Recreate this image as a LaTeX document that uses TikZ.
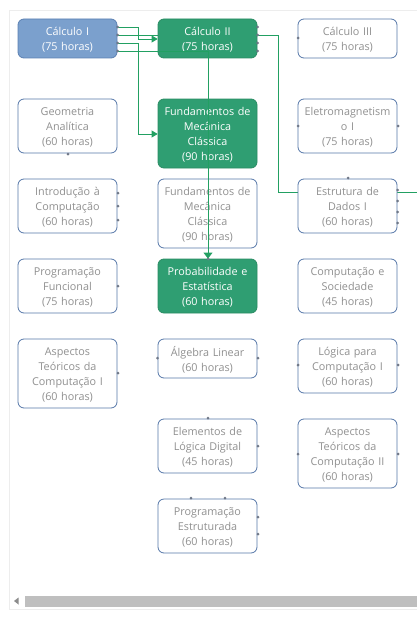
\documentclass[tikz,border=0pt]{standalone}
\usepackage{fontspec}
\setmainfont{Open Sans}
\usetikzlibrary{arrows.meta}
\definecolor{bluefill}{HTML}{7BA0CD}
\definecolor{blueline}{HTML}{5B80B2}
\definecolor{greenfill}{HTML}{2F9E72}
\definecolor{greenline}{HTML}{2A8C63}
\definecolor{boxline}{HTML}{5577A8}
\definecolor{txtgray}{HTML}{909090}
\definecolor{edgegreen}{HTML}{22A062}
\definecolor{dotgray}{HTML}{707888}
\tikzset{
  course/.style={draw=boxline, line width=0.8pt, rounded corners=6pt, fill=white,
    minimum width=99pt, inner sep=0pt},
  bluebox/.style={course, fill=bluefill, draw=blueline},
  greenbox/.style={course, fill=greenfill, draw=greenline},
  coursetext/.style={text width=97pt, align=center, inner sep=0pt,
    font=\fontsize{10.8}{15}\selectfont, text=txtgray, yshift=-1.6pt},
  whitetext/.style={coursetext, text=white},
  link/.style={draw=edgegreen, line width=0.85pt},
  linkarrow/.style={link, -{Triangle[width=7pt,length=6pt]}},
  pin/.style={circle, fill=dotgray, inner sep=0pt, minimum size=3pt}
}
% #1 box style, #2 text style, #3 height, #4 name, #5 centre, #6 text
\newcommand\coursebox[6]{%
  \node[#1, minimum height=#3] (#4) at (#5) {};
  \node[#2] (#4-t) at (#4.center) {#6};}
\begin{document}
\begin{tikzpicture}[x=1pt,y=-1pt]
\useasboundingbox (0,0) rectangle (417,618);
% frame
\draw[draw=black!7, line width=0.6pt] (417,10) -- (9,10) -- (9,609) -- (417,609);
% scrollbar
\fill[black!25] (25,596) rectangle (417,607);
\fill[black!45] (14,601) -- (18.5,597.5) -- (18.5,604.5) -- cycle;

% connector behind boxes
\coordinate (c1) at (117,35);
\coordinate (bend1) at (278,35);
\coordinate (bend2) at (278,192);
\coordinate (offright) at (417,192);
\draw[link] (c1) -- (bend1) -- (bend2) -- (offright);

% column 1
\coursebox{bluebox}{whitetext}{39pt}{calc1}{67.5,38.5}{Cálculo I\\(75 horas)}
\coursebox{course}{coursetext}{54pt}{geo}{67.5,126}{Geometria\\Analítica\\(60 horas)}
\coursebox{course}{coursetext}{54pt}{intro}{67.5,206}{Introdução à\\Computação\\(60 horas)}
\coursebox{course}{coursetext}{54pt}{pfunc}{67.5,286}{Programação\\Funcional\\(75 horas)}
\coursebox{course}{coursetext}{69pt}{atc1}{67.5,373.5}{Aspectos\\Teóricos da\\Computação I\\(60 horas)}

% column 2
\coursebox{greenbox}{whitetext}{39pt}{calc2}{207.5,38.5}{Cálculo II\\(75 horas)}
\coursebox{greenbox}{whitetext}{69pt}{fmc1}{207.5,133.5}{Fundamentos de\\Mecânica\\Clássica\\(90 horas)}
\coursebox{course}{coursetext}{69pt}{fmc2}{207.5,213.5}{Fundamentos de\\Mecânica\\Clássica\\(90 horas)}
\coursebox{greenbox}{whitetext}{54pt}{prob}{207.5,286}{Probabilidade e\\Estatística\\(60 horas)}
\coursebox{course}{coursetext}{39pt}{alg}{207.5,358.5}{Álgebra Linear\\(60 horas)}
\coursebox{course}{coursetext}{54pt}{eld}{207.5,446}{Elementos de\\Lógica Digital\\(45 horas)}
\coursebox{course}{coursetext}{54pt}{pest}{207.5,526}{Programação\\Estruturada\\(60 horas)}

% column 3
\coursebox{course}{coursetext}{39pt}{calc3}{347.5,38.5}{Cálculo III\\(75 horas)}
\coursebox{course}{coursetext}{54pt}{elet}{347.5,126}{Eletromagnetism\\o I\\(75 horas)}
\coursebox{course}{coursetext}{54pt}{ed1}{347.5,206}{Estrutura de\\Dados I\\(60 horas)}
\coursebox{course}{coursetext}{54pt}{csoc}{347.5,286}{Computação e\\Sociedade\\(45 horas)}
\coursebox{course}{coursetext}{54pt}{lc1}{347.5,366}{Lógica para\\Computação I\\(60 horas)}
\coursebox{course}{coursetext}{69pt}{atc2}{347.5,453.5}{Aspectos\\Teóricos da\\Computação II\\(60 horas)}

% connectors on top
\coordinate (a1) at (117,27);
\coordinate (a3) at (117,43);
\coordinate (a4) at (117,51);
\draw[linkarrow] (a1) -- (138,27) -- (138,39) -- (calc2.west |- 0,39);
\draw[linkarrow] (a3) -- (138,43) -- (138,134) -- (fmc1.west |- 0,134);
\draw[link] (a4) -- (208,51);
\draw[link, -{Triangle[width=9pt,length=6pt]}] (208,51) -- (prob.north -| 208,0);

% connection dots
\foreach \y in {27,35,43,51} {\node[pin] at (117.5,\y) {}; \node[pin] at (257.5,\y) {};}
\node[pin] at (68,154) {};
\node[pin] at (298,38) {};
\node[pin] at (298,126) {};
\node[pin] at (398,126) {};
\node[pin] at (348,178) {};
\foreach \y in {190,201,212,223} {\node[pin] at (397.5,\y) {};}
\foreach \y in {193,206,220} {\node[pin] at (118,\y) {};}
\node[pin] at (118,286) {};
\node[pin] at (208,259) {};
\node[pin] at (118,373) {};
\node[pin] at (157.5,358) {};
\node[pin] at (258,358) {};
\node[pin] at (298,365) {};
\node[pin] at (398,365) {};
\node[pin] at (208,418) {};
\node[pin] at (258,446) {};
\node[pin] at (298,454) {};
\node[pin] at (398,454) {};
\node[pin] at (191,498) {};
\node[pin] at (225,498) {};
\node[pin] at (258,517) {};
\node[pin] at (258,534) {};
\end{tikzpicture}
\end{document}
